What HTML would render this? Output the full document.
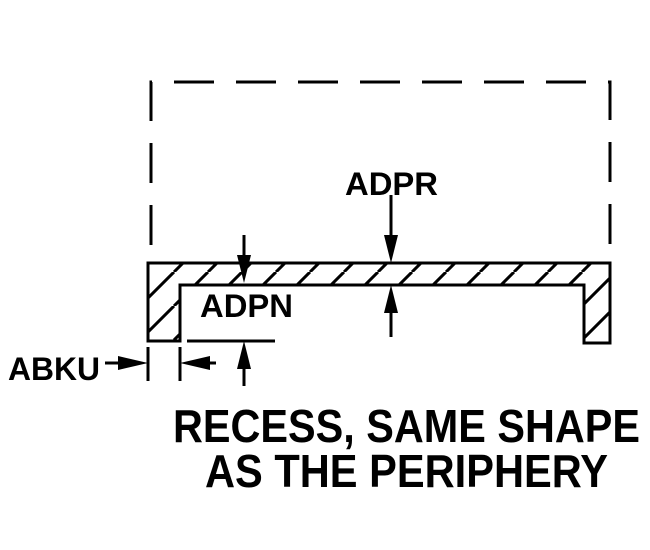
<!DOCTYPE html>
<html><head><style>body{margin:0;background:#fff}svg{display:block}</style></head><body>
<svg width="650" height="550" viewBox="0 0 650 550" xmlns="http://www.w3.org/2000/svg">
<defs>
<pattern id="h" patternUnits="userSpaceOnUse" width="34" height="34" patternTransform="translate(4,0)">
<line x1="0" y1="34" x2="34" y2="0" stroke="#000" stroke-width="3"/>
<line x1="-34" y1="34" x2="0" y2="0" stroke="#000" stroke-width="3"/>
<line x1="34" y1="34" x2="68" y2="0" stroke="#000" stroke-width="3"/>
</pattern>
</defs>
<g stroke="#000" stroke-width="3" fill="none">
<path d="M151 245 V82 H610 V245" stroke-dasharray="40 22"/>
<path d="M148 263 H610 V343 H584 V285 H180 V341 H148 Z" fill="url(#h)"/>
<line x1="391" y1="195" x2="391" y2="245"/>
<line x1="391" y1="300" x2="391" y2="337"/>
<line x1="244" y1="235" x2="244" y2="262"/>
<line x1="244" y1="360" x2="244" y2="386"/>
<line x1="187" y1="341" x2="275" y2="341"/>
<line x1="148" y1="347" x2="148" y2="381"/>
<line x1="180" y1="347" x2="180" y2="381"/>
<line x1="105" y1="363" x2="125" y2="363"/>
<line x1="195" y1="363" x2="216" y2="363"/>
</g>
<g fill="#000">
<polygon points="384,235 398,235 391,263"/>
<polygon points="384,313 398,313 391,285"/>
<polygon points="237,255 251,255 244,283"/>
<polygon points="237,369 251,369 244,341"/>
<polygon points="118,356 118,370 148,363"/>
<polygon points="210,356 210,370 180,363"/>
</g>
<g font-family="Liberation Sans, sans-serif" font-weight="bold" fill="#000">
<text x="345" y="195" font-size="32" textLength="93" lengthAdjust="spacingAndGlyphs">ADPR</text>
<text x="200" y="317" font-size="32" textLength="93" lengthAdjust="spacingAndGlyphs">ADPN</text>
<text x="8" y="380" font-size="32" textLength="92" lengthAdjust="spacingAndGlyphs">ABKU</text>
<text x="173" y="442" font-size="46" textLength="467" lengthAdjust="spacingAndGlyphs">RECESS, SAME SHAPE</text>
<text x="205" y="487" font-size="46" textLength="403" lengthAdjust="spacingAndGlyphs">AS THE PERIPHERY</text>
</g>
</svg>
</body></html>
